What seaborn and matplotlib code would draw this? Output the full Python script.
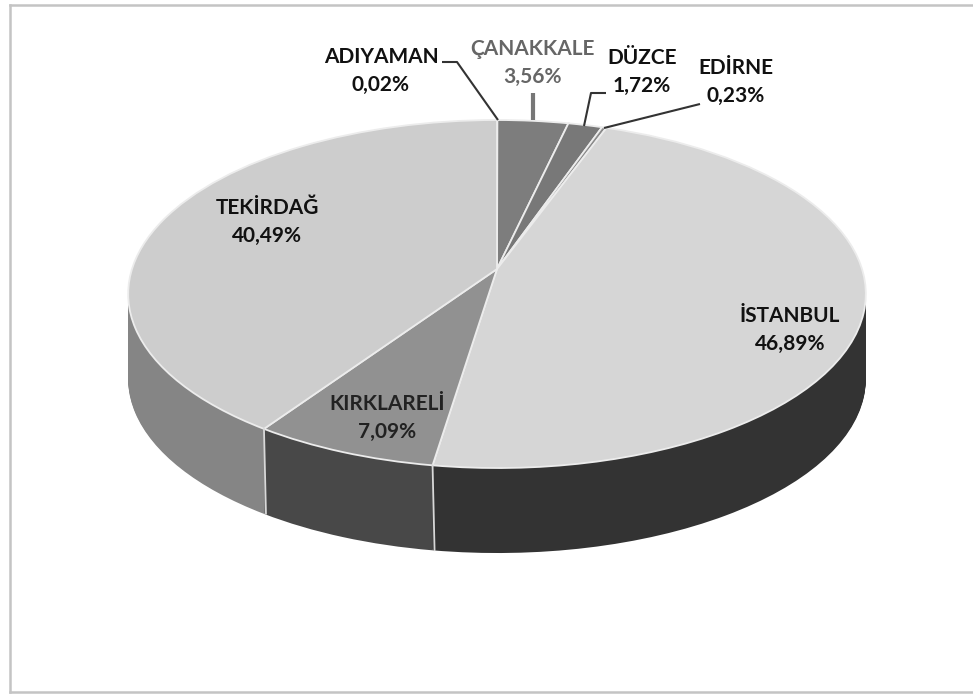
import numpy as np
import matplotlib
matplotlib.use('Agg')
import matplotlib.pyplot as plt
from matplotlib.transforms import Transform
import seaborn as sns

# share of each province, clockwise from 12 o'clock
provinces = ['ADIYAMAN', 'ÇANAKKALE', 'DÜZCE', 'EDİRNE', 'İSTANBUL', 'KIRKLARELİ', 'TEKİRDAĞ']
shares = [0.02, 3.56, 1.72, 0.23, 46.89, 7.09, 40.49]
top_colors = ['#b8b8b8', '#7d7d7d', '#787878', '#8a8a8a', '#d6d6d6', '#919191', '#cdcdcd']
wall_colors = ['#707070', '#505050', '#4c4c4c', '#555555', '#333333', '#484848', '#858585']
text_colors = ['#111111', '#666666', '#111111', '#111111', '#111111', '#222222', '#111111']

# label centres and leader lines in picture pixels
label_pos = [(381, 70), (532, 62), (642, 71), (736, 81), (790, 329), (387, 417), (267, 221)]
leaders = [([442, 457, 498], [61, 61, 119], '#333333', 1.5),
           ([533, 533], [92, 119], '#777777', 3.0),
           ([606, 591, 584], [92, 92, 125], '#333333', 1.5),
           ([700, 604], [103, 127], '#333333', 1.5)]

# where the pie sits in the picture
APEX_X, APEX_Y = 497, 268
RADIUS_X, RADIUS_Y = 365, 170.4
TILT = 0.1437
DEPTH = 85


class Perspective(Transform):
    # tilts the flat unit pie and moves it down by drop pixels
    input_dims = 2
    output_dims = 2
    is_separable = False
    has_inverse = False

    def __init__(self, drop=0):
        super().__init__()
        self.drop = drop

    def transform_non_affine(self, values):
        values = np.asarray(values, dtype=float)
        w = 1 + TILT * values[:, 1]
        px = APEX_X + RADIUS_X * values[:, 0] / w
        py = APEX_Y + self.drop - RADIUS_Y * values[:, 1] / w
        return np.column_stack([px, py])


sns.set_theme(style='white')
plt.rcParams['font.family'] = ['Lato', 'DejaVu Sans']

fig = plt.figure(figsize=(9.73, 6.94), dpi=100)
ax = fig.add_axes([10 / 973, 2 / 694, 963 / 973, 687 / 694])

# side wall: stack of pies, lowest first
for d in range(DEPTH, 0, -1):
    wedges, _ = ax.pie(shares, colors=wall_colors, startangle=90, counterclock=False)
    for w in wedges:
        w.set_transform(Perspective(d) + ax.transData)
        w.set_linewidth(0)

# top face
wedges, _ = ax.pie(shares, colors=top_colors, startangle=90, counterclock=False,
                   wedgeprops={'edgecolor': '#ececec', 'linewidth': 1.3})
for w in wedges:
    w.set_transform(Perspective() + ax.transData)

# light seams on the wall between slices
persp = Perspective()
for cum in np.cumsum(shares)[[4, 5]]:
    ang = np.pi / 2 - 2 * np.pi * cum / 100
    rim = persp.transform(np.array([[np.cos(ang), np.sin(ang)]]))[0]
    ax.plot([rim[0], rim[0] + 2], [rim[1], rim[1] + DEPTH], color='#d8d8d8', lw=1.3)

for xs, ys, c, lw in leaders:
    ax.plot(xs, ys, color=c, lw=lw, solid_capstyle='butt')

for name, share, pos, c in zip(provinces, shares, label_pos, text_colors):
    pct = f'{share:.2f}'.replace('.', ',') + '%'
    ax.text(pos[0], pos[1], f'{name}\n{pct}', ha='center', va='center', ma='center',
            fontsize=15, fontweight='bold', color=c, linespacing=1.5)

# pie() turns the frame off and fixes the limits, so set them after
ax.set_frame_on(True)
ax.set_aspect('auto')
ax.set_xlim(10, 973)
ax.set_ylim(691, 4)
ax.set_xticks([])
ax.set_yticks([])
sns.despine(ax=ax, right=True, top=False, left=False, bottom=False)
for side in ['left', 'top', 'bottom']:
    ax.spines[side].set_color('#c4c4c4')
    ax.spines[side].set_linewidth(1.8)

plt.savefig('out.png', dpi=100)
